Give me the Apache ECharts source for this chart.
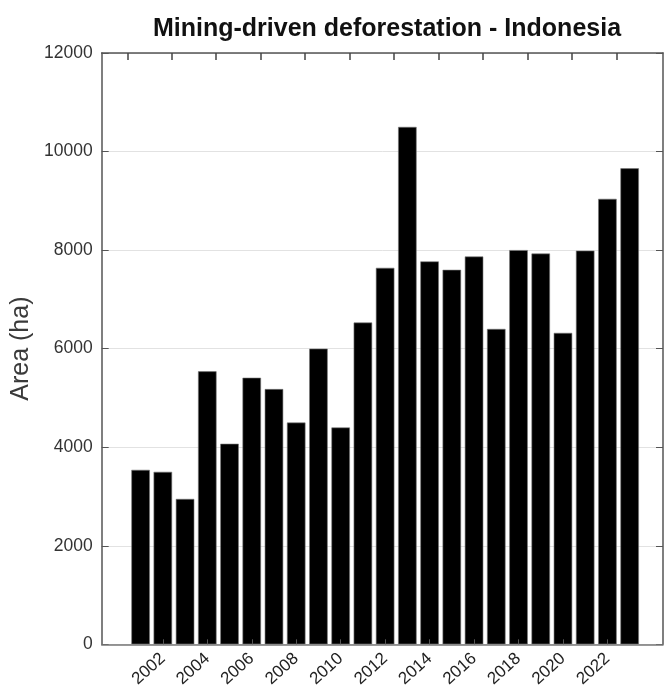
<!DOCTYPE html>
<html>
<head>
<meta charset="utf-8">
<script src="https://cdn.jsdelivr.net/npm/echarts@6/dist/echarts.min.js"></script>
<style>
  html, body { margin: 0; padding: 0; background: #fff; }
  #chart { width: 664px; height: 689px; }
</style>
</head>
<body>
<div id="chart"></div>
<script>
// data
var years = [2001, 2002, 2003, 2004, 2005, 2006, 2007, 2008, 2009, 2010, 2011, 2012,
             2013, 2014, 2015, 2016, 2017, 2018, 2019, 2020, 2021, 2022, 2023];
var area = [3540, 3500, 2950, 5540, 4070, 5410, 5180, 4500, 6000, 4400, 6530, 7640,
            10500, 7770, 7600, 7870, 6400, 8000, 7930, 6320, 7990, 9040, 9660];
var bottomTicks = [2002, 2004, 2006, 2008, 2010, 2012, 2014, 2016, 2018, 2020, 2022];
// the top frame ticks sit a bit left of the bottom ones in the original
var topTicks = [2000.4, 2002.4, 2004.4, 2006.4, 2008.4, 2010.4, 2012.4, 2014.4,
                2016.4, 2018.4, 2020.4, 2022.4];

var font = 'Liberation Sans, Arial, sans-serif';
var barData = years.map(function (y, i) { return [y, area[i]]; });
var plain = function (v) { return String(v); };

var myChart = echarts.init(document.getElementById('chart'));
myChart.setOption({
  animation: false,
  title: {
    text: 'Mining-driven deforestation - Indonesia',
    left: 382,
    textAlign: 'center',
    top: 12,
    textStyle: { fontFamily: font, fontSize: 25, fontWeight: 'bold', color: '#111' }
  },
  grid: [
    { left: 101.7, right: 1, top: 53, bottom: 44.7, outerBoundsMode: 'none' },
    // thin strip above the plot, used only for the top frame line and its ticks
    { left: 101.7, right: 1, top: 43, height: 10, outerBoundsMode: 'none' }
  ],
  xAxis: [
    {
      type: 'value',
      gridIndex: 0,
      position: 'bottom',
      min: 1999.25,
      max: 2024.5,
      z: 3,
      axisLine: { lineStyle: { color: '#777', width: 1.5 } },
      axisTick: { show: true, inside: true, length: 5, customValues: bottomTicks, lineStyle: { color: '#555' } },
      axisLabel: {
        customValues: bottomTicks,
        formatter: plain,
        rotate: 42,
        margin: 12,
        fontFamily: font,
        fontSize: 17,
        color: '#222'
      },
      splitLine: { show: false }
    },
    {
      type: 'value',
      gridIndex: 1,
      position: 'bottom',
      min: 1999.25,
      max: 2024.5,
      axisLine: { show: true, lineStyle: { color: '#555', width: 1.5 } },
      axisTick: { show: true, inside: false, length: 7, customValues: topTicks, lineStyle: { color: '#444', width: 1.5 } },
      axisLabel: { show: false },
      splitLine: { show: false }
    }
  ],
  yAxis: [
    {
      type: 'value',
      gridIndex: 0,
      min: 0,
      max: 12000,
      interval: 2000,
      name: 'Area (ha)',
      nameLocation: 'middle',
      nameGap: 64,
      nameTextStyle: { fontFamily: font, fontSize: 25, color: '#3a3a3a' },
      axisLine: { show: true, lineStyle: { color: '#555', width: 1.5 } },
      axisTick: { show: true, inside: true, length: 7, lineStyle: { color: '#555' } },
      axisLabel: { fontFamily: font, fontSize: 17.5, color: '#333', margin: 9, formatter: plain },
      splitLine: { show: true, lineStyle: { color: '#e2e2e2', width: 1 } }
    },
    {
      type: 'value',
      gridIndex: 0,
      position: 'right',
      min: 0,
      max: 12000,
      interval: 2000,
      axisLine: { show: true, lineStyle: { color: '#555', width: 1.5 } },
      axisTick: { show: true, inside: true, length: 7, lineStyle: { color: '#555' } },
      axisLabel: { show: false },
      splitLine: { show: false }
    },
    {
      type: 'value',
      gridIndex: 1,
      show: false
    }
  ],
  series: [
    {
      type: 'bar',
      xAxisIndex: 0,
      yAxisIndex: 0,
      data: barData,
      barWidth: 18.5,
      itemStyle: { color: '#000', borderColor: '#777', borderWidth: 0.6 }
    }
  ]
});
</script>
</body>
</html>
